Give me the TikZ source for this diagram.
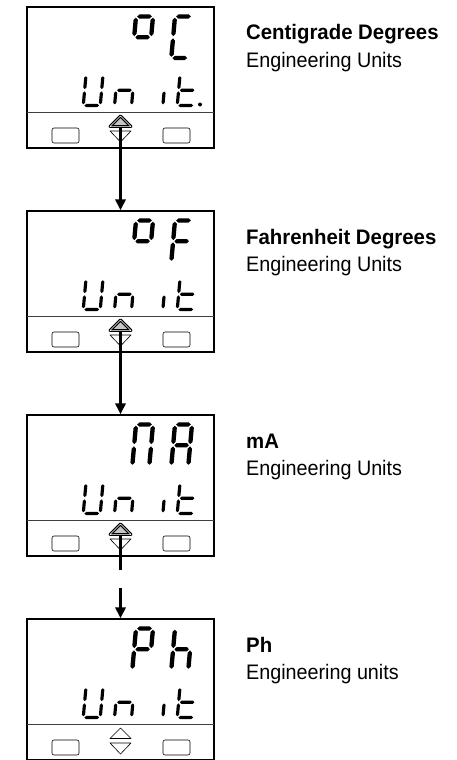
\documentclass[tikz,border=0pt]{standalone}
\usepackage{fontspec}
\usepackage{xstring}
\setmainfont{Liberation Sans}[FakeStretch=0.94,BoldFeatures={FakeStretch=0.97}]
\usetikzlibrary{arrows.meta}

% tapered segments, half thickness \st
\newcommand{\hseg}[3]{\fill (#1,#3) -- (#1+\st,#3-\st) -- (#2-\st,#3-\st) -- (#2,#3) -- (#2-\st,#3+\st) -- (#1+\st,#3+\st) -- cycle;}
\newcommand{\vseg}[3]{\fill (#1,#2) -- (#1+\st,#2+\st) -- (#1+\st,#3-\st) -- (#1,#3) -- (#1-\st,#3-\st) -- (#1-\st,#2+\st) -- cycle;}

% one slanted seven-segment character: x, top y, width, height, segments
\newcommand{\lcdchar}[5]{%
  \begin{scope}[shift={(#1,#2)}, xslant=0.09]
    \pgfmathsetmacro\st{0.052*#4}
    \def\sg{1.2}
    \IfSubStr{#5}{a}{\hseg{\sg}{#3-\sg}{0}}{}
    \IfSubStr{#5}{b}{\vseg{#3}{\sg}{#4/2-\sg}}{}
    \IfSubStr{#5}{c}{\vseg{#3}{#4/2+\sg}{#4-\sg}}{}
    \IfSubStr{#5}{d}{\hseg{\sg}{#3-\sg}{#4}}{}
    \IfSubStr{#5}{e}{\vseg{0}{#4/2+\sg}{#4-\sg}}{}
    \IfSubStr{#5}{f}{\vseg{0}{\sg}{#4/2-\sg}}{}
    \IfSubStr{#5}{g}{\hseg{\sg}{#3-\sg}{#4/2}}{}
  \end{scope}}

\tikzset{
  panel/.style={draw, line width=1.1pt, minimum width=187pt, minimum height=141pt, inner sep=0pt},
  sep/.style={line width=0.7pt, black!75},
  btn/.style={line width=0.6pt, rounded corners=2pt},
  keyon/.style={draw, line width=1.2pt, double=white, double distance=0.5pt, fill=gray!45, line join=round},
  keyoff/.style={draw, line width=0.6pt, line join=round},
  flow/.style={line width=2.6pt, -{Triangle[length=11pt,width=10pt]}},
  cut/.style={line width=2.6pt},
  title/.style={font=\fontsize{21}{25}\selectfont\bfseries, inner sep=0pt, anchor=base west},
  note/.style={font=\fontsize{21}{25}\selectfont, inner sep=0pt, anchor=base west}
}

\begin{document}
\begin{tikzpicture}[x=1pt, y=-1pt]
  \useasboundingbox (0,0) rectangle (457,760);

  \foreach \nm/\ty/\hione/\hitwo/\upkey/\lbl/\units in {
      degc/7/abfg/adef/keyon/Centigrade Degrees/Engineering Units,
      degf/211/abfg/aefg/keyon/Fahrenheit Degrees/Engineering Units,
      ma/415/abcef/abcefg/keyon/mA/Engineering Units,
      ph/619/abefg/cefg/keyoff/Ph/Engineering units}{
    \node[panel] (\nm) at (120.5,\ty+70.5) {};
    \draw[sep] (27,\ty+105) -- (214,\ty+105);
    % upper line of the display
    \lcdchar{136}{\ty+9.5}{17}{41.5}{\hione}
    \lcdchar{175}{\ty+9.5}{17}{41.5}{\hitwo}
    % lower line: Unit
    \lcdchar{86}{\ty+68}{17}{30.5}{bcdef}
    \lcdchar{117.3}{\ty+68}{17}{30.5}{ceg}
    \lcdchar{148.6}{\ty+68}{17}{30.5}{c}
    \lcdchar{180}{\ty+68}{17}{30.5}{defg}
    % keys
    \draw[btn] (52,\ty+121) rectangle (79,\ty+136);
    \draw[btn] (163,\ty+121) rectangle (190,\ty+136);
    \draw[\upkey] (110,\ty+119.5) -- (120.5,\ty+109) -- (131,\ty+119.5) -- cycle;
    \draw[keyoff] (110,\ty+124) -- (131,\ty+124) -- (120.5,\ty+135) -- cycle;
    \coordinate (\nm-key) at (120.5,\ty+120);
    % texts
    \node[title] (\nm-title) at (246,\ty+33) {\lbl};
    \node[note] (\nm-note) at (246,\ty+60) {\units};
  }
  \fill (200,104.5) circle (2);

  \coordinate (ma-cut) at (120.5,570);
  \coordinate (ph-in) at (120.5,588);
  \draw[flow] (degc-key) -- (degf.north);
  \draw[flow] (degf-key) -- (ma.north);
  \draw[cut] (ma-key) -- (ma-cut);
  \draw[flow] (ph-in) -- (ph.north);
\end{tikzpicture}
\end{document}
